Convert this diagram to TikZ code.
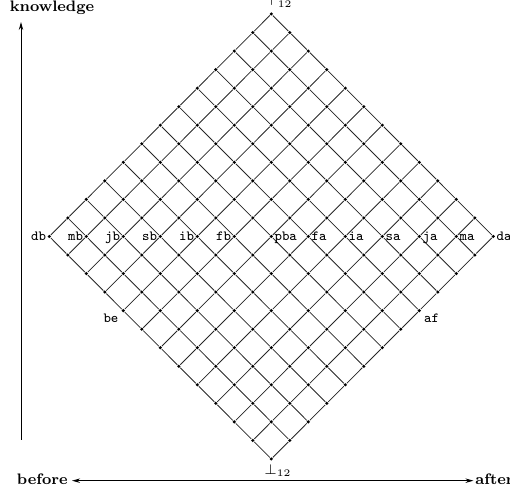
\documentclass[tikz,border=0pt]{standalone}
\usetikzlibrary{arrows.meta}
\begin{document}
\begin{tikzpicture}[x=0.5pt,y=-0.5pt,
  dotnode/.style={circle,fill=black,inner sep=0pt,minimum size=1.7pt},
  gridedge/.style={draw=black!85,line width=0.4pt},
  lab/.style={font=\ttfamily\fontsize{7}{8}\selectfont,inner sep=0pt},
  mathlab/.style={font=\fontsize{7}{8}\selectfont,inner sep=0pt},
  axislab/.style={font=\bfseries\fontsize{7.6}{9}\selectfont,inner sep=0pt},
  axisline/.style={line width=0.45pt}]
\useasboundingbox (0,0) rectangle (510,497);
% lattice points
\foreach \i in {0,...,12}{
  \foreach \j in {0,...,12}{
    \node[dotnode] (p-\i-\j) at ({271.3+18.5*(\i-\j)},{14+18.54*(\i+\j)}) {};
  }
}
% lattice edges
\foreach \i in {0,...,12}{
  \foreach \j [evaluate=\j as \k using int(\j+1)] in {0,...,11}{
    \draw[gridedge] (p-\i-\j) -- (p-\i-\k);
    \draw[gridedge] (p-\j-\i) -- (p-\k-\i);
  }
}
% middle row labels
\foreach \i/\t in {0/db,1/mb,2/jb,3/sb,4/ib,5/fb}{
  \pgfmathtruncatemacro\jj{12-\i}
  \node[lab,anchor=mid east,xshift=-0.4pt] (l-\t) at (p-\i-\jj.west) {\t};
}
\foreach \i/\t in {6/pba,7/fa,8/ia,9/sa,10/ja,11/ma,12/da}{
  \pgfmathtruncatemacro\jj{12-\i}
  \node[lab,anchor=mid west,xshift=0.4pt] (l-\t) at (p-\i-\jj.east) {\t};
}
\node[lab,anchor=north east,xshift=-1.5pt,yshift=-0.5pt] (l-be) at (p-4-12.south west) {be};
\node[lab,anchor=north west,xshift=1.5pt,yshift=-0.5pt] (l-af) at (p-12-4.south east) {af};
% top and bottom
\node[mathlab,anchor=base west] (ltop) at (265,6) {$\top_{12}$};
\node[mathlab,anchor=base west] (lbot) at (264,475) {$\bot_{12}$};
% axes
\node[axislab,anchor=base] (know) at (52,12) {knowledge};
\coordinate (vbot) at (21,440);
\coordinate (vtop) at (21,22);
\draw[axisline,-{Stealth[length=4pt,width=2.2pt]}] (vbot) -- (vtop);
\node[axislab,anchor=base east] (before) at (68,485) {before};
\node[axislab,anchor=base west] (after) at (475,485) {after};
\draw[axisline,{Stealth[length=4pt,width=2.2pt]}-{Stealth[length=4pt,width=2.2pt]}]
  ([xshift=2pt]before.mid east) -- ([xshift=-0.75pt]after.mid west);
\end{tikzpicture}
\end{document}
